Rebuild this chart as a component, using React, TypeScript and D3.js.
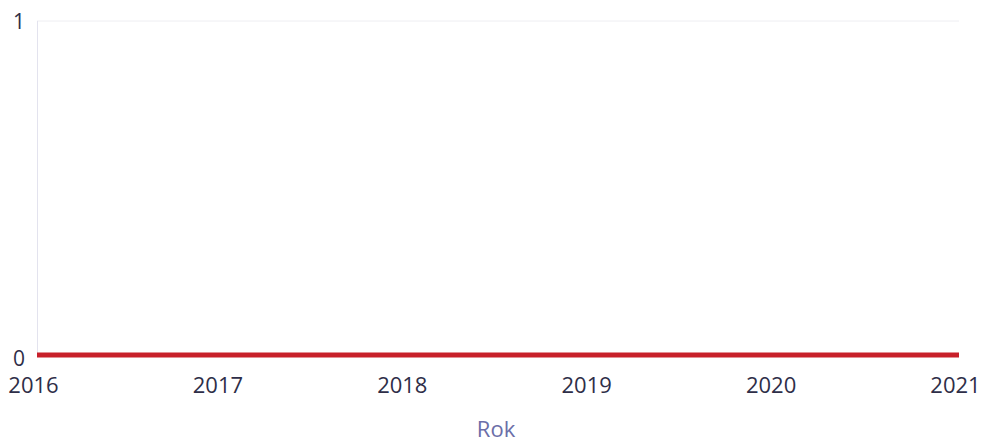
import React from "react";
import * as d3 from "d3";

const years = [2016, 2017, 2018, 2019, 2020, 2021];
const values = [0, 0, 0, 0, 0, 0];
const yTicks = [0, 1];
const xTitle = "Rok";

export default function App() {
  const W = 981, H = 439;
  const left = 37, right = 959, top = 21, bottom = 355;
  const x = d3.scaleLinear().domain([2016, 2021]).range([left, right]);
  const y = d3.scaleLinear().domain([0, 1]).range([bottom, top]);
  const line = d3.line<number>().x((_, i) => x(years[i])).y(d => y(d));
  const font = "'Open Sans', sans-serif";
  return (
    <svg width={W} height={H} style={{ position: "absolute", left: 0, top: 0, background: "#fff" }}>
      <line x1={left} x2={right} y1={y(1)} y2={y(1)} stroke="#eeeef2" strokeWidth={1} />
      <line x1={left + 0.5} x2={left + 0.5} y1={top} y2={bottom} stroke="#e3e3ee" strokeWidth={1} />
      {yTicks.map(t => (
        <text key={t} x={19} y={y(t) + 7.5 + (t === 0 ? 3.5 : 0)} textAnchor="middle" fontFamily={font} fontSize={21} fill="#2e2e48">{t}</text>
      ))}
      {years.map(yr => (
        <text key={yr} x={x(yr) - 3.5} y={393} textAnchor="middle" fontFamily={font} fontSize={22} fill="#2e2e48">{yr}</text>
      ))}
      <path d={line(values) || ""} fill="none" stroke="#c8202a" strokeWidth={5} />
      <text x={496} y={436.5} textAnchor="middle" fontFamily={font} fontSize={22} fill="#6b6ea8">{xTitle}</text>
    </svg>
  );
}
